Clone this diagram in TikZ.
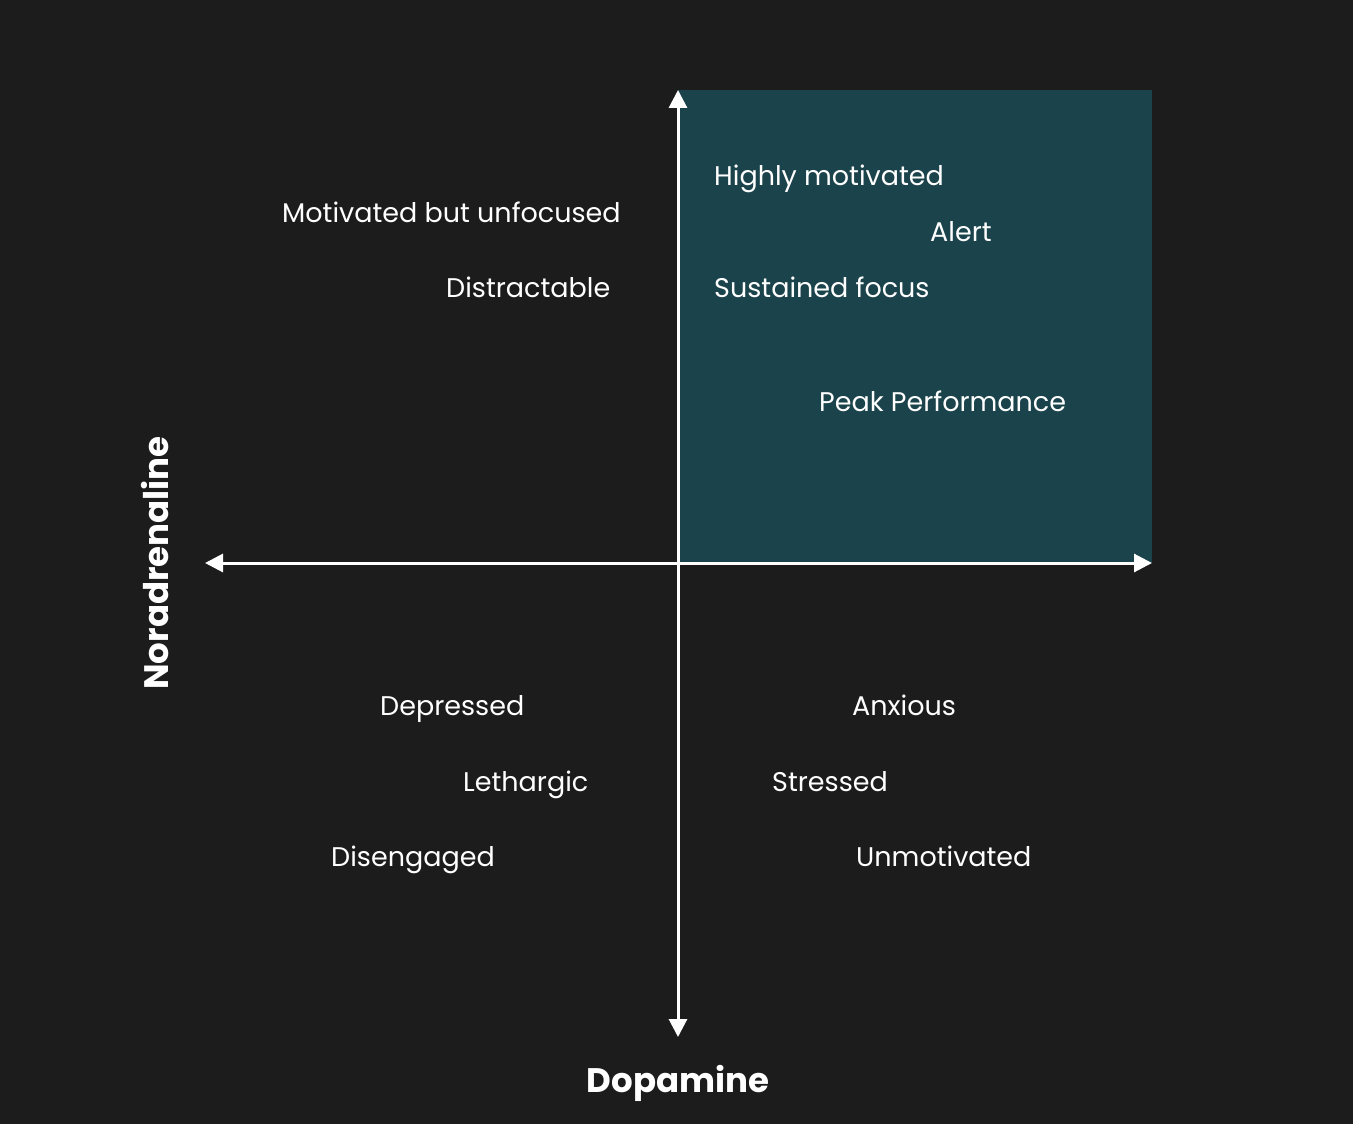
\documentclass[tikz,border=0pt]{standalone}
\usepackage{fontspec}
\setmainfont{Poppins}
\usetikzlibrary{positioning, arrows.meta}
\definecolor{bgdark}{RGB}{28,28,28}
\definecolor{tealbox}{RGB}{27,67,75}

\begin{document}
\begin{tikzpicture}[x=1pt, y=-1pt,
    lbl/.style={anchor=base west, text=white, inner sep=0pt, font=\fontsize{27}{31}\selectfont},
    axislbl/.style={text=white, inner sep=0pt, font=\bfseries\fontsize{34}{40}\selectfont},
    axis/.style={draw=white, line width=3pt, -{Triangle[length=18pt, width=18pt]}}]

    % background and top right quadrant
    \fill[bgdark] (0,0) rectangle (1353,1124);
    \fill[tealbox] (678,90) rectangle (1152,563);

    % axes
    \coordinate (o) at (678,563);
    \coordinate (top) at (678,90);
    \coordinate (bottom) at (678,1037);
    \coordinate (left) at (205,563);
    \coordinate (right) at (1152,563);
    \draw[axis] (o) -- (top);
    \draw[axis] (o) -- (bottom);
    \draw[axis] (o) -- (left);
    \draw[axis] (o) -- (right);

    % top right
    \node[lbl] (highly) at (714,185) {Highly motivated};
    \node[lbl] (alert) at (930,241) {Alert};
    \node[lbl] (sustained) at (714,297) {Sustained focus};
    \node[lbl] (peak) at (819,411) {Peak Performance};

    % top left
    \node[lbl] (unfocused) at (282,222) {Motivated but unfocused};
    \node[lbl] (distract) at (446,297) {Distractable};

    % bottom left
    \node[lbl] (depressed) at (380,715) {Depressed};
    \node[lbl] (lethargic) at (463,791) {Lethargic};
    \node[lbl] (disengaged) at (331,866) {Disengaged};

    % bottom right
    \node[lbl] (anxious) at (852,715) {Anxious};
    \node[lbl] (stressed) at (772,791) {Stressed};
    \node[lbl] (unmotivated) at (856,866) {Unmotivated};

    % axis names
    \node[axislbl] (dopamine) at (678,1083) {Dopamine};
    \node[axislbl, rotate=90] (noradr) at (155,563) {Noradrenaline};
\end{tikzpicture}
\end{document}
